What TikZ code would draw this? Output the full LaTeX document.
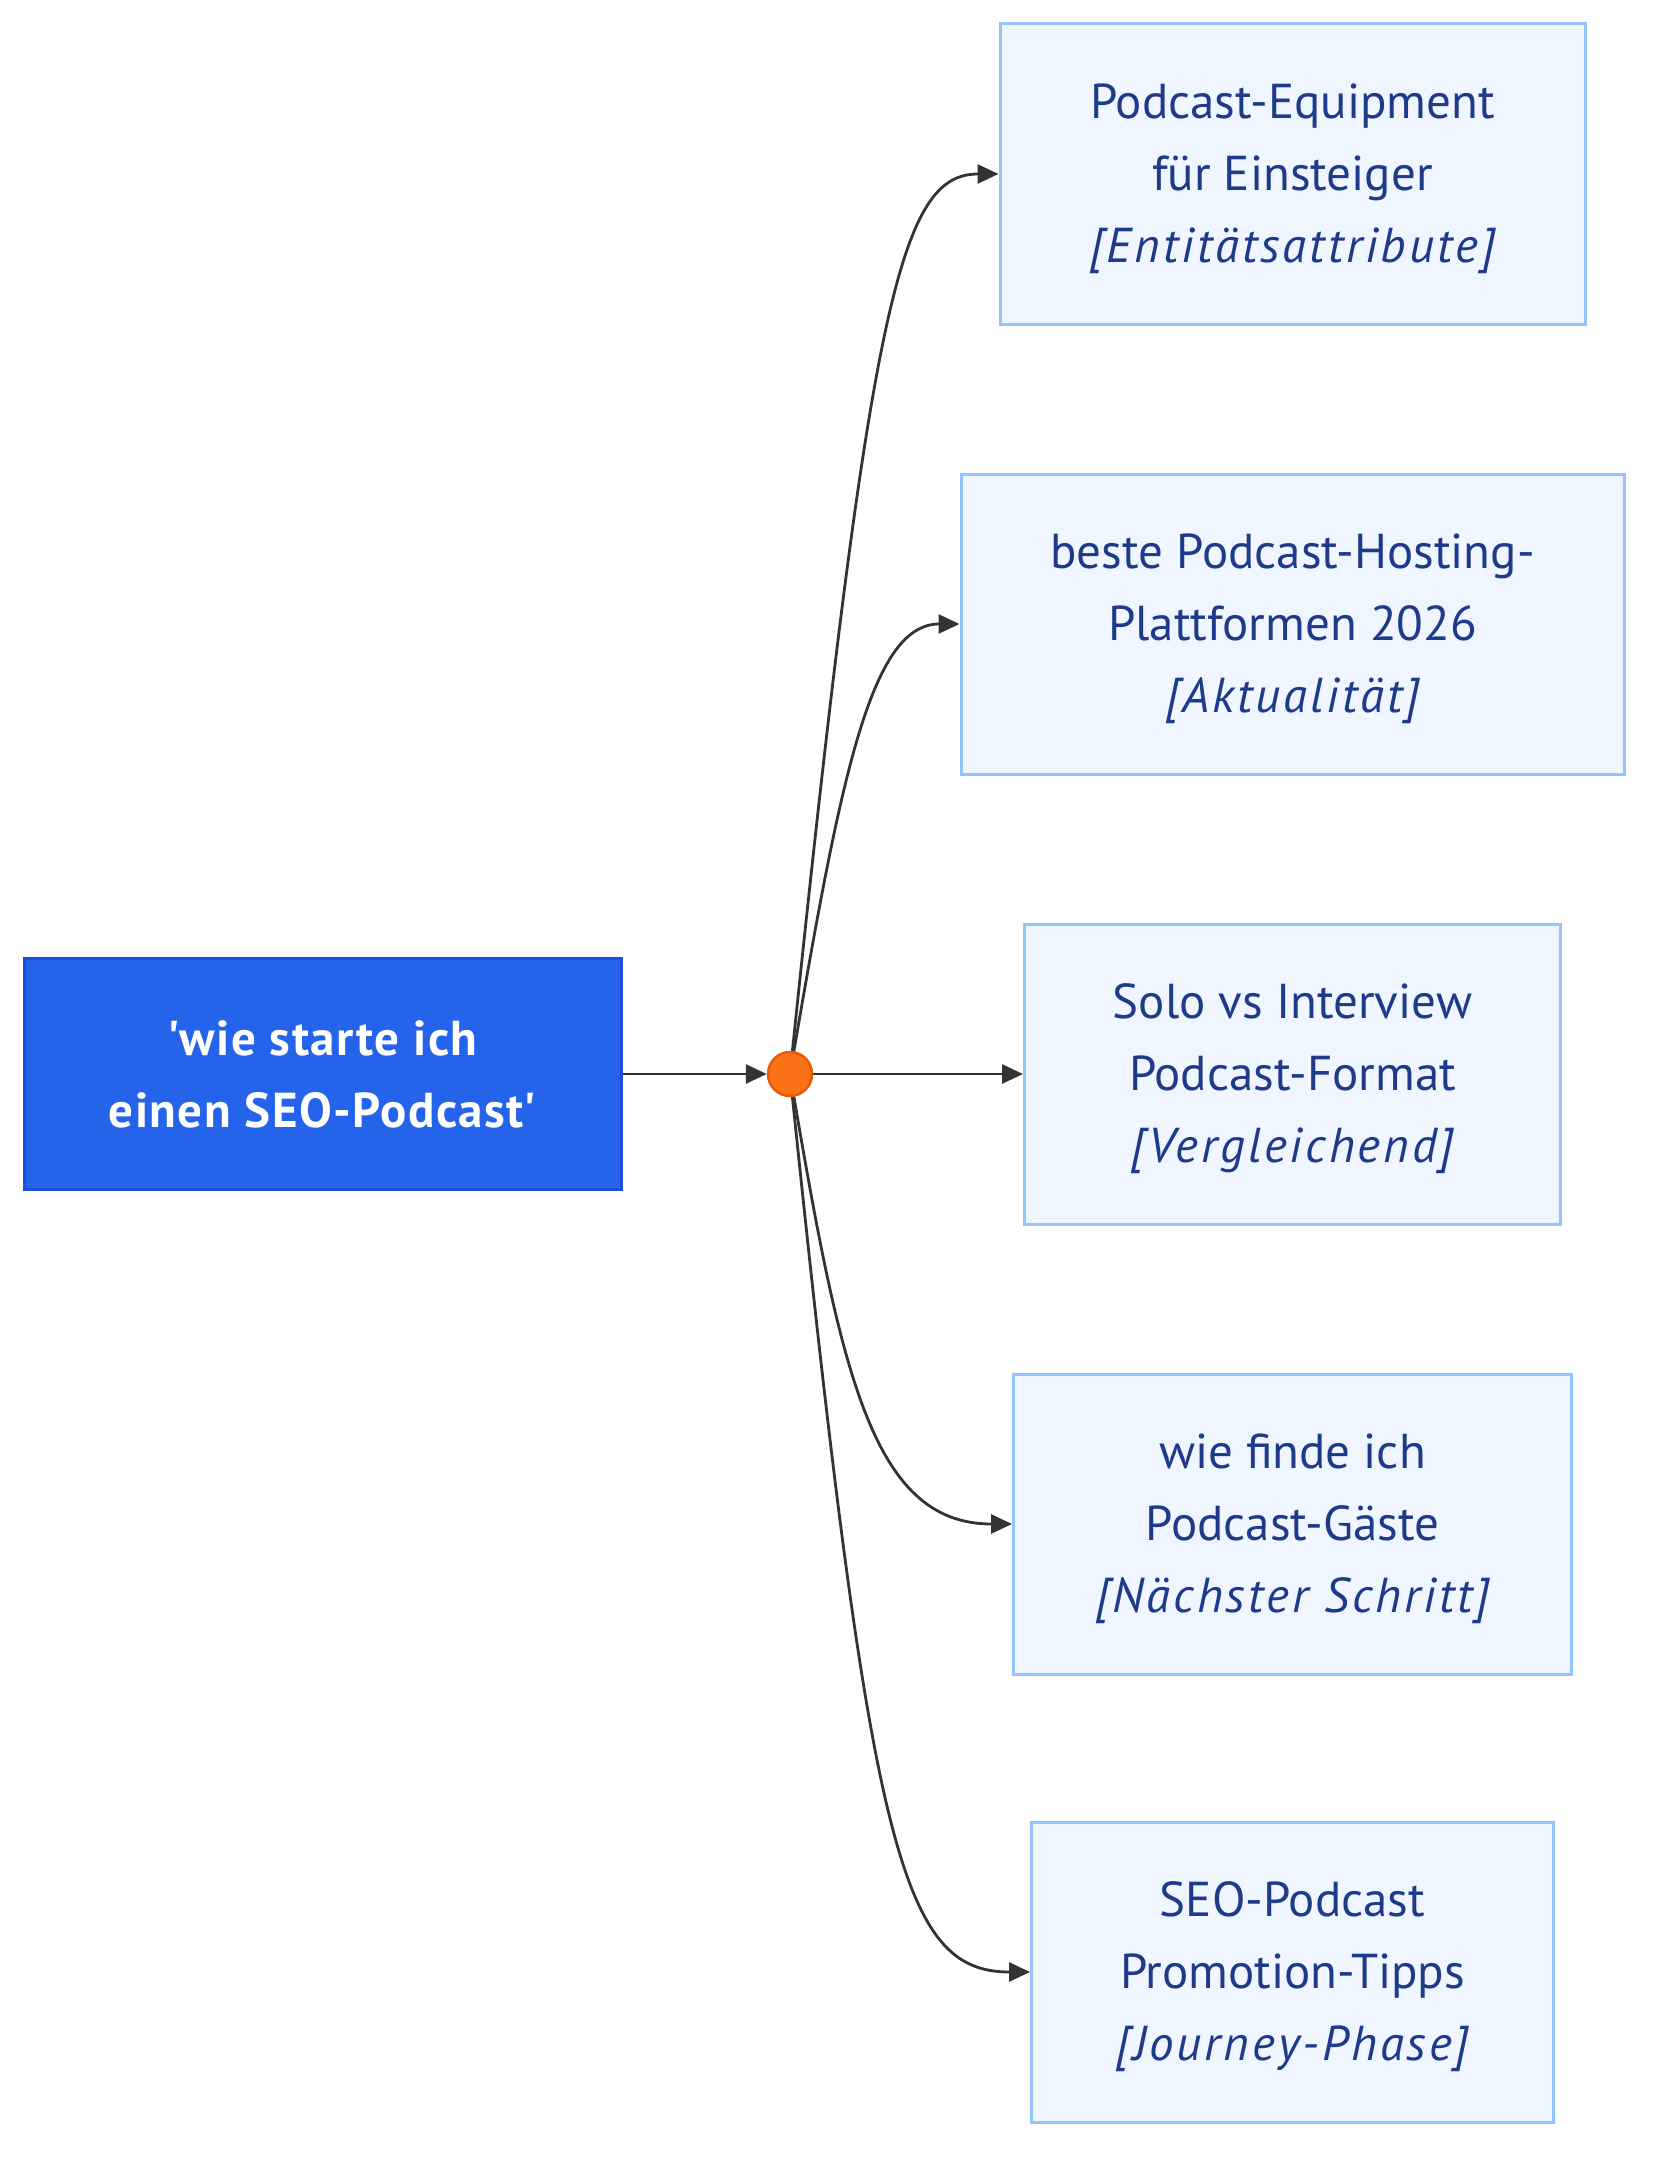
\documentclass[tikz,border=0pt]{standalone}
\usepackage{fontspec}
\setmainfont{PT Sans}
\usetikzlibrary{arrows.meta, backgrounds}

\definecolor{rootfill}{HTML}{2563EB}
\definecolor{rootline}{HTML}{1D4ED8}
\definecolor{topicfill}{HTML}{EFF6FF}
\definecolor{topicline}{HTML}{93C5FD}
\definecolor{topictext}{HTML}{1E3A8A}
\definecolor{hubfill}{HTML}{F97316}
\definecolor{hubline}{HTML}{EA580C}
\definecolor{edgecol}{HTML}{333333}

% wider italic tag line, as in the source rendering
\newcommand{\tagline}[1]{{\itshape\addfontfeatures{LetterSpace=6}#1}}

\begin{document}
\begin{tikzpicture}[
    x=1pt, y=-1pt,
    root/.style={draw=rootline, fill=rootfill, text=white, line width=3pt, align=center,
        font=\fontsize{49}{72}\selectfont\bfseries\addfontfeatures{LetterSpace=3}, minimum width=597pt, minimum height=231pt, inner sep=0pt},
    topic/.style={draw=topicline, fill=topicfill, text=topictext, line width=3pt, align=center,
        font=\fontsize{49}{72}\selectfont, minimum height=300pt, inner sep=0pt, text depth=2pt},
    hub/.style={circle, draw=hubline, fill=hubfill, line width=2.5pt, minimum size=44pt, inner sep=0pt},
    arrow/.style={-{Triangle[length=21pt, width=19pt]}, line width=2.8pt, draw=edgecol},
]
    \useasboundingbox (0,0) rectangle (1671,2178);

    \node[root] (query) at (322.5, 1074) {\textquotesingle wie starte ich\\einen SEO-Podcast\textquotesingle};
    \node[hub] (hub) at (790, 1074) {};

    \node[topic, minimum width=585pt] (t1) at (1292.5, 174) {Podcast-Equipment\\für Einsteiger\\\tagline{[Entitätsattribute]}};
    \node[topic, minimum width=663pt] (t2) at (1292.5, 624) {beste Podcast-Hosting-\\Plattformen 2026\\\tagline{[Aktualität]}};
    \node[topic, minimum width=536pt] (t3) at (1292.5, 1074) {Solo vs Interview\\Podcast-Format\\\tagline{[Vergleichend]}};
    \node[topic, minimum width=558pt] (t4) at (1292.5, 1524) {wie finde ich\\Podcast-Gäste\\\tagline{[Nächster Schritt]}};
    \node[topic, minimum width=522pt] (t5) at (1292.5, 1972) {SEO-Podcast\\Promotion-Tipps\\\tagline{[Journey-Phase]}};

    \begin{scope}[on background layer]
        \draw[arrow] (query) -- (hub);
        \draw[arrow] (hub.center) .. controls (870, 300) and (900, 174) .. (t1.west);
        \draw[arrow] (hub.center) .. controls (840, 780) and (870, 624) .. (t2.west);
        \draw[arrow] (hub.center) -- (t3.west);
        \draw[arrow] (hub.center) .. controls (840, 1368) and (870, 1524) .. (t4.west);
        \draw[arrow] (hub.center) .. controls (870, 1848) and (900, 1972) .. (t5.west);
    \end{scope}
\end{tikzpicture}
\end{document}
